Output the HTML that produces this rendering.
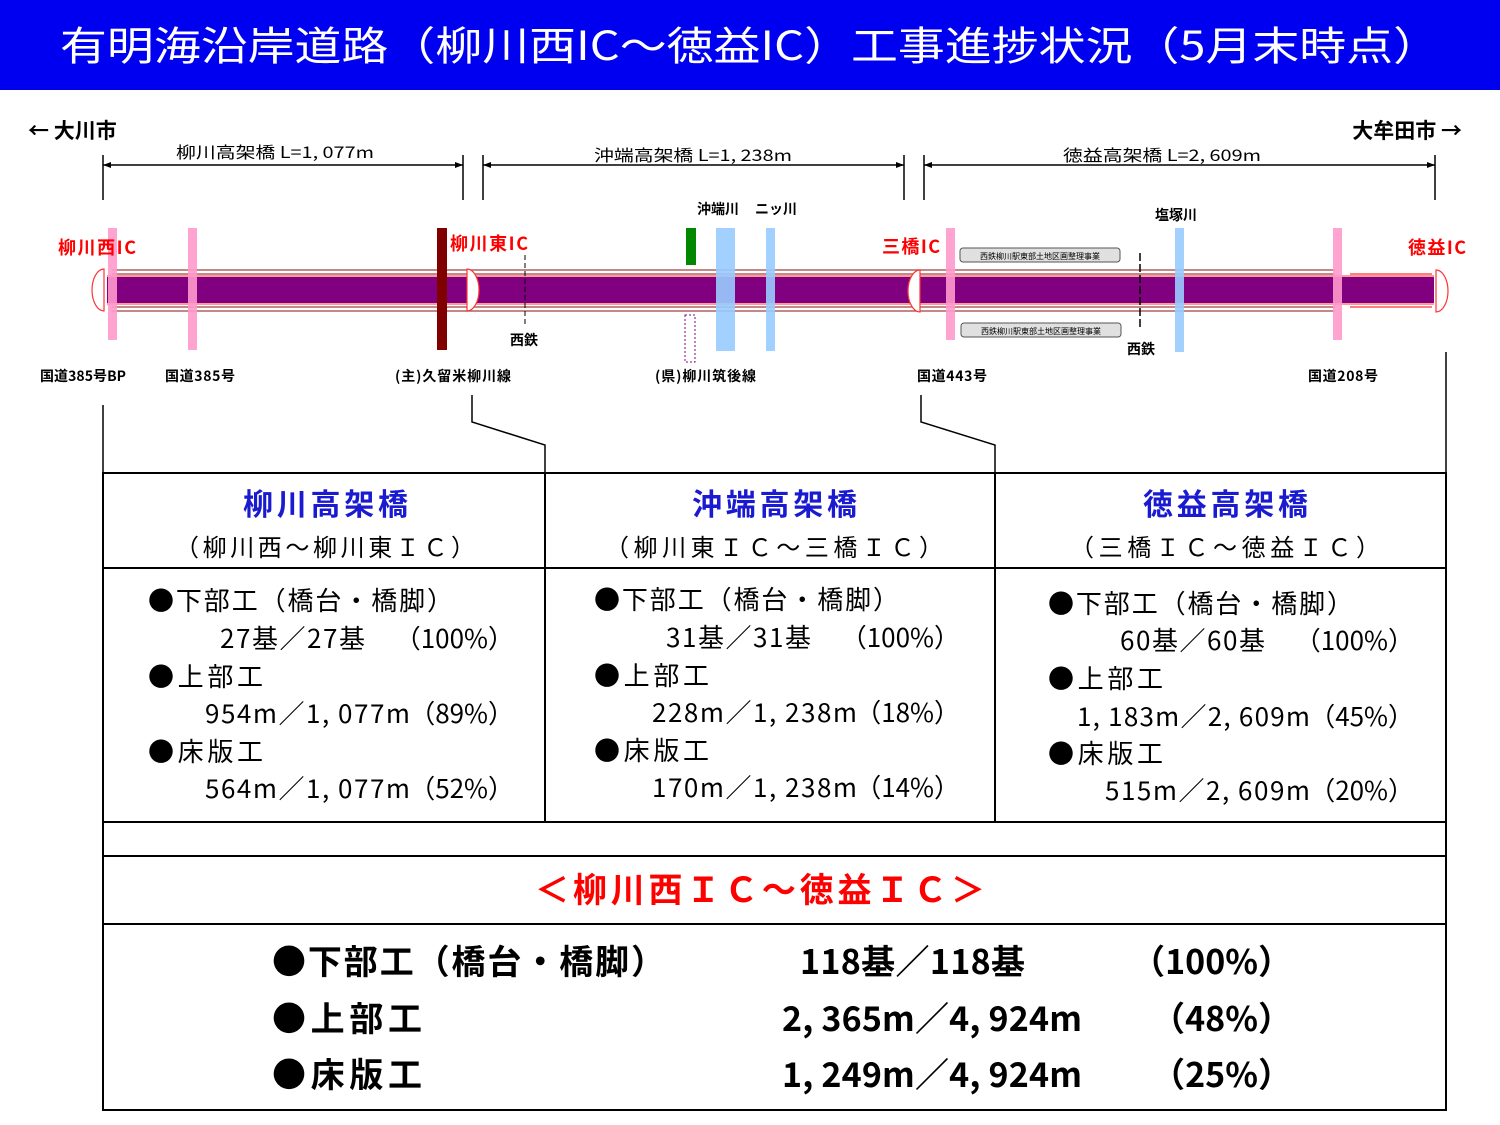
<!DOCTYPE html>
<html><head><meta charset="utf-8"><style>
html,body{margin:0;padding:0;background:#fff}
svg{display:block}
text{font-family:"Noto Sans CJK JP","Liberation Sans",sans-serif}
</style></head><body>
<svg width="1500" height="1125" viewBox="0 0 1500 1125" xmlns="http://www.w3.org/2000/svg">
<rect x="0" y="0" width="1500" height="90" fill="#0000f0"/>
<text x="60" y="60" font-size="40" fill="#fff" textLength="1380" lengthAdjust="spacingAndGlyphs">有明海沿岸道路（柳川西IC～徳益IC）工事進捗状況（5月末時点）</text>

<text x="28" y="138" font-size="21" font-weight="bold">← 大川市</text>
<text x="1462" y="138" font-size="21" font-weight="bold" text-anchor="end">大牟田市 →</text>

<g stroke="#000" stroke-width="1.5" fill="none">
<line x1="103" y1="165" x2="463" y2="165"/><line x1="103" y1="155" x2="103" y2="200"/><line x1="463" y1="155" x2="463" y2="200"/>
<line x1="483" y1="165" x2="904" y2="165"/><line x1="483" y1="155" x2="483" y2="200"/><line x1="904" y1="155" x2="904" y2="200"/>
<line x1="924" y1="165" x2="1435" y2="165"/><line x1="924" y1="155" x2="924" y2="200"/><line x1="1435" y1="155" x2="1435" y2="200"/>
</g>
<g fill="#000"><path d="M103,165 l8,-3 v6z M463,165 l-8,-3 v6z M483,165 l8,-3 v6z M904,165 l-8,-3 v6z M924,165 l8,-3 v6z M1435,165 l-8,-3 v6z"/></g>
<text x="176" y="158" font-size="16" textLength="198" lengthAdjust="spacingAndGlyphs">柳川高架橋 L=1, 077m</text>
<text x="594" y="161" font-size="16" textLength="198" lengthAdjust="spacingAndGlyphs">沖端高架橋 L=1, 238m</text>
<text x="1063" y="161" font-size="16" textLength="198" lengthAdjust="spacingAndGlyphs">徳益高架橋 L=2, 609m</text>

<g stroke="#b06060" stroke-width="1.5">
<line x1="112" y1="270" x2="1335" y2="270"/><line x1="112" y1="274" x2="1335" y2="274"/>
<line x1="112" y1="307" x2="1335" y2="307"/><line x1="112" y1="311" x2="1335" y2="311"/>
</g>
<g stroke="#f33" stroke-width="1.2" fill="none">
<line x1="1350" y1="274" x2="1432" y2="274"/><line x1="1350" y1="307" x2="1432" y2="307"/>
</g>
<rect x="107" y="277" width="1327" height="26" fill="#800080"/>
<line x1="107" y1="276" x2="1434" y2="276" stroke="#f33"/><line x1="107" y1="304" x2="1434" y2="304" stroke="#f33"/>
<g stroke="#f33" stroke-width="1.2" fill="#fff">
<path d="M104,269 A12,21 0 0 0 104,311 Z"/>
<path d="M467,269 A12,21 0 0 1 467,311 Z"/>
<path d="M920,270 A12,21 0 0 0 920,312 Z"/>
<path d="M1436,270 A12,21 0 0 1 1436,312 Z"/>
</g>

<rect x="108" y="228" width="9" height="112" fill="#f9c" opacity="0.9"/>
<rect x="188" y="228" width="9" height="122" fill="#f9c" opacity="0.9"/>
<rect x="437" y="228" width="10" height="122" fill="#800000"/>
<rect x="686" y="228" width="10" height="37" fill="#080"/>
<rect x="716" y="228" width="19" height="123" fill="#9cf" opacity="0.9"/>
<rect x="766" y="228" width="9" height="123" fill="#9cf" opacity="0.9"/>
<rect x="685" y="315" width="10" height="47" fill="none" stroke="#808" stroke-dasharray="2,2"/>
<rect x="946" y="228" width="9" height="112" fill="#f9c" opacity="0.9"/>
<rect x="1175" y="228" width="9" height="124" fill="#9cf" opacity="0.9"/>
<rect x="1333" y="228" width="9" height="112" fill="#f9c" opacity="0.9"/>
<line x1="525" y1="255" x2="525" y2="325" stroke="#000" stroke-dasharray="5,3"/>
<line x1="1140" y1="253" x2="1140" y2="327" stroke="#000" stroke-width="1.5" stroke-dasharray="8,3"/>
<rect x="960" y="248" width="160" height="14" rx="3" fill="#e0e0e0" stroke="#555"/>
<rect x="961" y="323" width="160" height="14" rx="3" fill="#e0e0e0" stroke="#555"/>
<text x="1040" y="259" font-size="8" text-anchor="middle">西鉄柳川駅東部土地区画整理事業</text>
<text x="1041" y="334" font-size="8" text-anchor="middle">西鉄柳川駅東部土地区画整理事業</text>

<g font-size="18" font-weight="bold" fill="#f00">
<text x="58" y="254" textLength="78">柳川西IC</text><text x="450" y="250" textLength="78">柳川東IC</text>
<text x="882" y="253" textLength="58">三橋IC</text><text x="1408" y="254" textLength="58">徳益IC</text>
</g>
<g font-size="14" font-weight="bold">
<text x="697" y="214">沖端川</text><text x="755" y="214">ニッ川</text>
<text x="1155" y="220">塩塚川</text>
<text x="510" y="345">西鉄</text><text x="1127" y="354">西鉄</text>
<text x="40" y="381" textLength="86">国道385号BP</text><text x="165" y="381" textLength="70">国道385号</text>
<text x="395" y="381" textLength="116">(主)久留米柳川線</text><text x="655" y="381" textLength="101">(県)柳川筑後線</text>
<text x="917" y="381" textLength="70">国道443号</text><text x="1308" y="381" textLength="70">国道208号</text>
</g>

<g stroke="#000" stroke-width="1.5" fill="none">
<polyline points="103,405 103,473"/>
<polyline points="472,395 472,422 545,445 545,473"/>
<polyline points="921,395 921,422 995,445 995,473"/>
<polyline points="1446,352 1446,473"/>
</g>
<g stroke="#000" stroke-width="2" fill="none">
<rect x="103" y="473" width="1343" height="637"/>
<line x1="103" y1="568" x2="1446" y2="568"/>
<line x1="103" y1="822" x2="1446" y2="822"/>
<line x1="103" y1="856" x2="1446" y2="856"/>
<line x1="103" y1="924" x2="1446" y2="924"/>
<line x1="545" y1="473" x2="545" y2="822"/>
<line x1="995" y1="473" x2="995" y2="822"/>
</g>
<g font-size="30" font-weight="bold" fill="#1a1ad0">
<text x="243" y="515" textLength="165">柳川高架橋</text><text x="692" y="515" textLength="165">沖端高架橋</text><text x="1143" y="515" textLength="165">徳益高架橋</text>
</g>
<g font-size="24">
<text x="175" y="556" textLength="300">（柳川西～柳川東ＩＣ）</text><text x="605" y="556" textLength="338">（柳川東ＩＣ～三橋ＩＣ）</text><text x="1070" y="556" textLength="310">（三橋ＩＣ～徳益ＩＣ）</text>
</g>
<g font-size="26" lengthAdjust="spacingAndGlyphs">
<text x="148" y="610" textLength="305">●下部工（橋台・橋脚）</text>
<text x="220" y="648" textLength="145">27基／27基</text><text x="514" y="648" text-anchor="end">（100%）</text>
<text x="148" y="686" textLength="115">●上部工</text>
<text x="205" y="723" textLength="205">954m／1, 077m</text><text x="514" y="723" text-anchor="end">（89%）</text>
<text x="148" y="761" textLength="115">●床版工</text>
<text x="205" y="798" textLength="205">564m／1, 077m</text><text x="514" y="798" text-anchor="end">（52%）</text>

<text x="594" y="609" textLength="305">●下部工（橋台・橋脚）</text>
<text x="666" y="647" textLength="145">31基／31基</text><text x="960" y="647" text-anchor="end">（100%）</text>
<text x="594" y="685" textLength="115">●上部工</text>
<text x="652" y="722" textLength="205">228m／1, 238m</text><text x="960" y="722" text-anchor="end">（18%）</text>
<text x="594" y="760" textLength="115">●床版工</text>
<text x="652" y="797" textLength="205">170m／1, 238m</text><text x="960" y="797" text-anchor="end">（14%）</text>

<text x="1048" y="613" textLength="305">●下部工（橋台・橋脚）</text>
<text x="1120" y="650" textLength="145">60基／60基</text><text x="1414" y="650" text-anchor="end">（100%）</text>
<text x="1048" y="688" textLength="115">●上部工</text>
<text x="1077" y="726" textLength="233">1, 183m／2, 609m</text><text x="1414" y="726" text-anchor="end">（45%）</text>
<text x="1048" y="763" textLength="115">●床版工</text>
<text x="1105" y="800" textLength="205">515m／2, 609m</text><text x="1414" y="800" text-anchor="end">（20%）</text>
</g>
<text x="535" y="902" font-size="34" font-weight="bold" fill="#f00" textLength="450">＜柳川西ＩＣ～徳益ＩＣ＞</text>
<g font-size="34" font-weight="bold" lengthAdjust="spacingAndGlyphs">
<text x="272" y="974" textLength="393">●下部工（橋台・橋脚）</text>
<text x="800" y="974" textLength="225">118基／118基</text><text x="1292" y="974" text-anchor="end">（100%）</text>
<text x="272" y="1031" textLength="150">●上部工</text>
<text x="782" y="1031" textLength="300">2, 365m／4, 924m</text><text x="1292" y="1031" text-anchor="end">（48%）</text>
<text x="272" y="1087" textLength="150">●床版工</text>
<text x="782" y="1087" textLength="300">1, 249m／4, 924m</text><text x="1292" y="1087" text-anchor="end">（25%）</text>
</g>
</svg>
</body></html>
